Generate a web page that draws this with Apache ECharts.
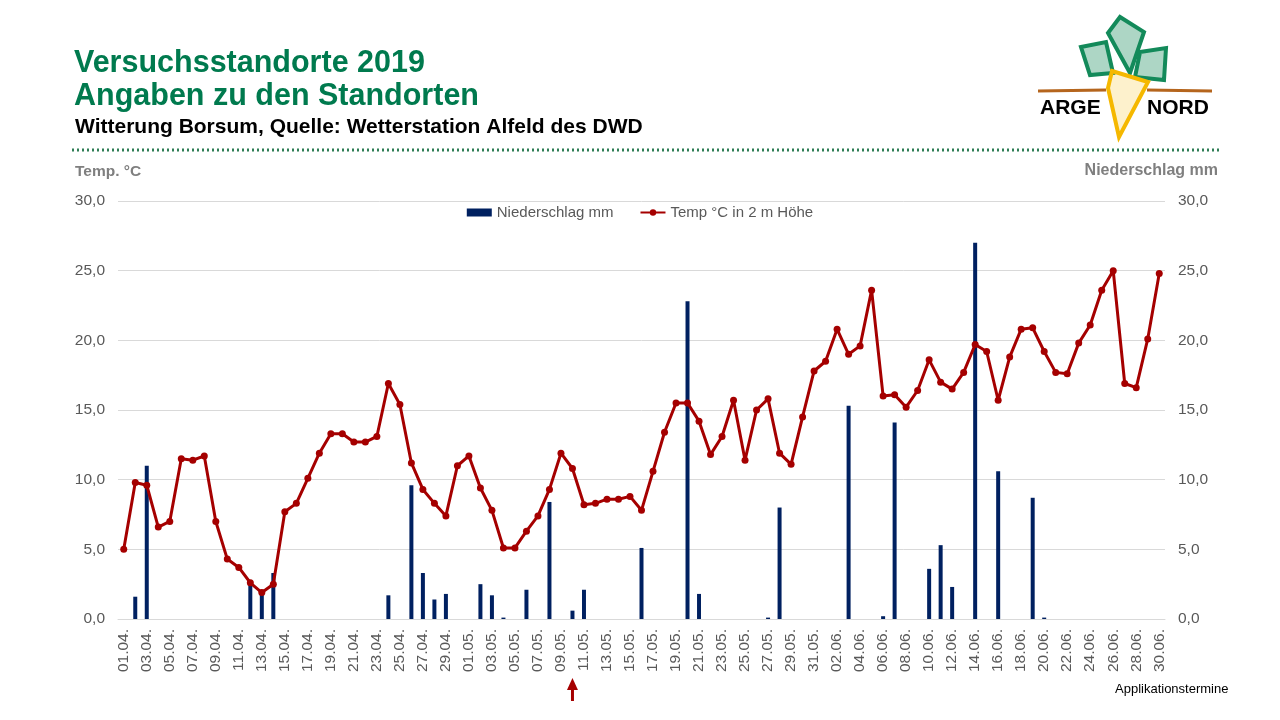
<!DOCTYPE html>
<html>
<head>
<meta charset="utf-8">
<script src="https://cdn.jsdelivr.net/npm/echarts@6/dist/echarts.min.js"></script>
<style>
html,body{margin:0;padding:0;background:#fff;}
#main{width:1280px;height:720px;}
</style>
</head>
<body>
<div id="main"></div>
<script>
// Tage 01.04. - 30.06.
var tage = ['01.04.','02.04.','03.04.','04.04.','05.04.','06.04.','07.04.','08.04.','09.04.','10.04.',
  '11.04.','12.04.','13.04.','14.04.','15.04.','16.04.','17.04.','18.04.','19.04.','20.04.',
  '21.04.','22.04.','23.04.','24.04.','25.04.','26.04.','27.04.','28.04.','29.04.','30.04.',
  '01.05.','02.05.','03.05.','04.05.','05.05.','06.05.','07.05.','08.05.','09.05.','10.05.',
  '11.05.','12.05.','13.05.','14.05.','15.05.','16.05.','17.05.','18.05.','19.05.','20.05.',
  '21.05.','22.05.','23.05.','24.05.','25.05.','26.05.','27.05.','28.05.','29.05.','30.05.',
  '31.05.','01.06.','02.06.','03.06.','04.06.','05.06.','06.06.','07.06.','08.06.','09.06.',
  '10.06.','11.06.','12.06.','13.06.','14.06.','15.06.','16.06.','17.06.','18.06.','19.06.',
  '20.06.','21.06.','22.06.','23.06.','24.06.','25.06.','26.06.','27.06.','28.06.','29.06.',
  '30.06.'];

// Niederschlag mm
var niederschlag = [0,1.6,11.0,0,0,0,0,0,0,0,
  0,2.7,1.9,3.3,0,0,0,0,0,0,
  0,0,0,1.7,0,9.6,3.3,1.4,1.8,0,
  0,2.5,1.7,0.1,0,2.1,0,8.4,0,0.6,
  2.1,0,0,0,0,5.1,0,0,0,22.8,
  1.8,0,0,0,0,0,0.1,8.0,0,0,
  0,0,0,15.3,0,0,0.2,14.1,0,0,
  3.6,5.3,2.3,0,27.0,0,10.6,0,0,8.7,
  0.1,0,0,0,0,0,0,0,0,0,
  0];

// Temp °C in 2 m Höhe
var temperatur = [5.0,9.8,9.6,6.6,7.0,11.5,11.4,11.7,7.0,4.3,
  3.7,2.6,1.9,2.5,7.7,8.3,10.1,11.9,13.3,13.3,
  12.7,12.7,13.1,16.9,15.4,11.2,9.3,8.3,7.4,11.0,
  11.7,9.4,7.8,5.1,5.1,6.3,7.4,9.3,11.9,10.8,
  8.2,8.3,8.6,8.6,8.8,7.8,10.6,13.4,15.5,15.5,
  14.2,11.8,13.1,15.7,11.4,15.0,15.8,11.9,11.1,14.5,
  17.8,18.5,20.8,19.0,19.6,23.6,16.0,16.1,15.2,16.4,
  18.6,17.0,16.5,17.7,19.7,19.2,15.7,18.8,20.8,20.9,
  19.2,17.7,17.6,19.8,21.1,23.6,25.0,16.9,16.6,20.1,
  24.8];

// Applikationstermine
var applikation = ['10.05.'];

var schrift = '"Liberation Sans", Arial, sans-serif';
var gruen = '#007A4E';
var blatt = '#138A5A';
var rot = '#A50000';
var blau = '#002060';

function komma(v){ return v.toFixed(1).replace('.', ','); }

var myChart = echarts.init(document.querySelector('#main'));

var option = {
  animation: false,
  textStyle: {fontFamily: schrift},
  grid: {left: 118, right: 115, top: 201, bottom: 101},
  legend: {
    top: 200,
    left: 'center',
    itemGap: 26,
    itemWidth: 25,
    itemHeight: 8,
    textStyle: {color: '#595959', fontSize: 15, fontFamily: schrift},
    data: [
      {name: 'Niederschlag mm', icon: 'rect'},
      {name: 'Temp °C in 2 m Höhe'}
    ]
  },
  xAxis: {
    type: 'category',
    data: tage,
    axisLine: {lineStyle: {color: '#D9D9D9'}},
    axisTick: {show: false},
    axisLabel: {rotate: 90, interval: 1, color: '#595959', fontSize: 15.5, margin: 10, fontFamily: schrift}
  },
  yAxis: [
    {
      type: 'value', min: 0, max: 30, interval: 5,
      axisLabel: {formatter: komma, color: '#595959', fontSize: 15.5, margin: 13},
      splitLine: {lineStyle: {color: '#D9D9D9'}},
      axisLine: {show: false}, axisTick: {show: false}
    },
    {
      type: 'value', min: 0, max: 30, interval: 5,
      axisLabel: {formatter: komma, color: '#595959', fontSize: 15.5, margin: 13},
      splitLine: {show: false},
      axisLine: {show: false}, axisTick: {show: false}
    }
  ],
  series: [
    {
      name: 'Niederschlag mm',
      type: 'bar',
      yAxisIndex: 1,
      barWidth: 4,
      itemStyle: {color: blau},
      data: niederschlag,
      z: 2
    },
    {
      name: 'Temp °C in 2 m Höhe',
      type: 'line',
      yAxisIndex: 0,
      symbol: 'circle',
      symbolSize: 7,
      lineStyle: {color: rot, width: 3},
      itemStyle: {color: rot},
      data: temperatur,
      z: 3
    }
  ]
};

myChart.setOption(option);

// Kopf, Logo, Pfeile
var grafik = [
  {type: 'text', left: 74, top: 48, style: {text: 'Versuchsstandorte 2019', fill: gruen, font: 'bold 30.5px ' + schrift}},
  {type: 'text', left: 74, top: 81, style: {text: 'Angaben zu den Standorten', fill: gruen, font: 'bold 30.5px ' + schrift}},
  {type: 'text', left: 75, top: 117, style: {text: 'Witterung Borsum, Quelle: Wetterstation Alfeld des DWD', fill: '#000', font: 'bold 21px ' + schrift}},
  {type: 'line', shape: {x1: 72, y1: 150, x2: 1220, y2: 150}, style: {stroke: '#2E7D55', lineWidth: 3, lineDash: [2, 3]}},
  {type: 'text', left: 75, top: 164, style: {text: 'Temp. °C', fill: '#7F7F7F', font: 'bold 15.5px ' + schrift}},
  {type: 'text', right: 62, top: 163, style: {text: 'Niederschlag mm', fill: '#7F7F7F', font: 'bold 16px ' + schrift}},
  {type: 'text', left: 1115, top: 683, style: {text: 'Applikationstermine', fill: '#000', font: '13px ' + schrift}},
  // Logo
  {type: 'line', shape: {x1: 1038, y1: 91, x2: 1106, y2: 90}, style: {stroke: '#B5651D', lineWidth: 3}},
  {type: 'line', shape: {x1: 1147, y1: 90, x2: 1212, y2: 91}, style: {stroke: '#B5651D', lineWidth: 3}},
  {type: 'polygon', shape: {points: [[1081, 47], [1106, 42], [1113, 73], [1090, 75]]}, style: {fill: 'rgba(19,138,90,0.35)', stroke: blatt, lineWidth: 4}},
  {type: 'polygon', shape: {points: [[1108, 33], [1120, 17], [1144, 32], [1130, 73]]}, style: {fill: 'rgba(19,138,90,0.35)', stroke: blatt, lineWidth: 4}},
  {type: 'polygon', shape: {points: [[1140, 52], [1166, 48], [1164, 80], [1135, 77]]}, style: {fill: 'rgba(19,138,90,0.35)', stroke: blatt, lineWidth: 4}},
  {type: 'polygon', shape: {points: [[1112, 71], [1148, 82], [1119, 137], [1108, 88]]}, style: {fill: 'rgba(245,184,0,0.2)', stroke: '#F5B800', lineWidth: 4}},
  {type: 'text', left: 1040, top: 98, style: {text: 'ARGE', fill: '#000', font: 'bold 21px ' + schrift}},
  {type: 'text', left: 1147, top: 98, style: {text: 'NORD', fill: '#000', font: 'bold 21px ' + schrift}}
];

applikation.forEach(function(tag){
  var x = myChart.convertToPixel({xAxisIndex: 0}, tag);
  grafik.push({type: 'polygon', shape: {points: [[x - 5.5, 690], [x + 5.5, 690], [x, 678]]}, style: {fill: rot}});
  grafik.push({type: 'rect', shape: {x: x - 1.5, y: 689, width: 3, height: 12}, style: {fill: rot}});
});

myChart.setOption({graphic: grafik});
</script>
</body>
</html>
